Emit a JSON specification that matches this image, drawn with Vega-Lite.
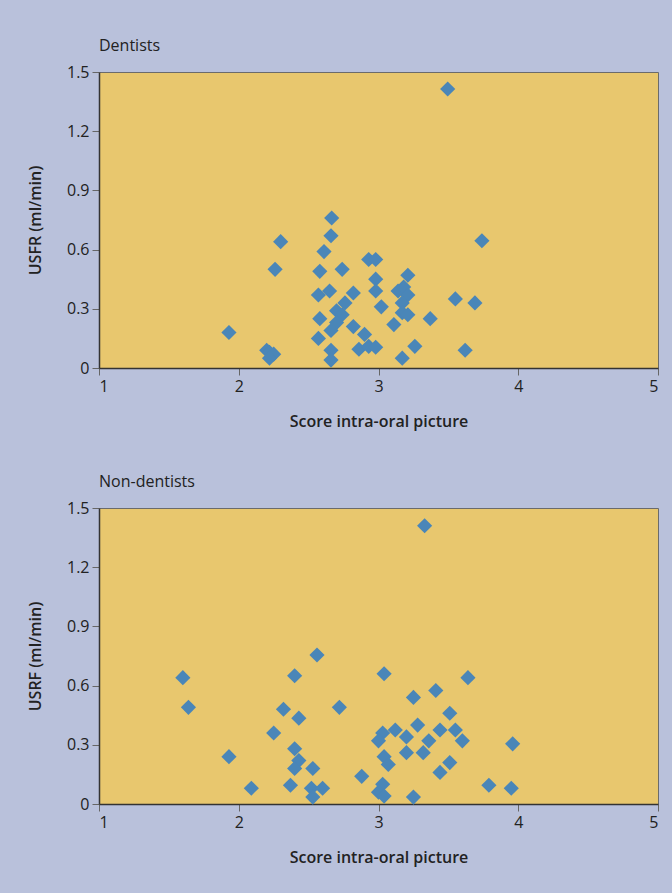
{
  "$schema": "https://vega.github.io/schema/vega-lite/v6.json",
  "background": "#b9c1db",
  "padding": {"left": 27, "top": 37, "right": 14, "bottom": 30},
  "spacing": 140,
  "bounds": "flush",
  "config": {
    "font": "Open Sans",
    "view": {"fill": "#e8c76e", "stroke": "#6b6b6b", "strokeWidth": 1},
    "axis": {
      "grid": false,
      "domainColor": "#333333",
      "domainWidth": 1.5,
      "tickColor": "#666666",
      "tickSize": 7,
      "labelFont": "Open Sans",
      "labelFontSize": 16,
      "labelColor": "#222222",
      "titleFont": "Open Sans",
      "titleFontSize": 16,
      "titleFontWeight": 600,
      "titleColor": "#222222"
    },
    "title": {"font": "Open Sans", "fontSize": 16, "fontWeight": 500, "color": "#222222", "anchor": "start", "frame": "group", "offset": 10}
  },
  "datasets": {
    "dentists": [
      {"score": 1.93, "usfr": 0.18},
      {"score": 2.20, "usfr": 0.09},
      {"score": 2.22, "usfr": 0.08},
      {"score": 2.25, "usfr": 0.07},
      {"score": 2.22, "usfr": 0.05},
      {"score": 2.30, "usfr": 0.64},
      {"score": 2.26, "usfr": 0.50},
      {"score": 2.665, "usfr": 0.76},
      {"score": 2.66, "usfr": 0.67},
      {"score": 2.61, "usfr": 0.59},
      {"score": 2.58, "usfr": 0.49},
      {"score": 2.74, "usfr": 0.50},
      {"score": 2.93, "usfr": 0.55},
      {"score": 2.98, "usfr": 0.55},
      {"score": 3.21, "usfr": 0.47},
      {"score": 3.74, "usfr": 0.645},
      {"score": 2.57, "usfr": 0.37},
      {"score": 2.65, "usfr": 0.39},
      {"score": 2.82, "usfr": 0.38},
      {"score": 2.98, "usfr": 0.45},
      {"score": 2.98, "usfr": 0.39},
      {"score": 3.14, "usfr": 0.39},
      {"score": 3.18, "usfr": 0.41},
      {"score": 3.21, "usfr": 0.37},
      {"score": 2.76, "usfr": 0.33},
      {"score": 2.70, "usfr": 0.29},
      {"score": 2.74, "usfr": 0.27},
      {"score": 3.02, "usfr": 0.31},
      {"score": 3.17, "usfr": 0.33},
      {"score": 3.17, "usfr": 0.28},
      {"score": 3.21, "usfr": 0.27},
      {"score": 3.55, "usfr": 0.35},
      {"score": 3.69, "usfr": 0.33},
      {"score": 2.58, "usfr": 0.25},
      {"score": 2.70, "usfr": 0.23},
      {"score": 2.66, "usfr": 0.19},
      {"score": 2.82, "usfr": 0.21},
      {"score": 2.90, "usfr": 0.17},
      {"score": 3.11, "usfr": 0.22},
      {"score": 3.37, "usfr": 0.25},
      {"score": 2.57, "usfr": 0.15},
      {"score": 2.66, "usfr": 0.09},
      {"score": 2.66, "usfr": 0.04},
      {"score": 2.86, "usfr": 0.095},
      {"score": 2.93, "usfr": 0.11},
      {"score": 2.98, "usfr": 0.105},
      {"score": 3.26, "usfr": 0.11},
      {"score": 3.17, "usfr": 0.05},
      {"score": 3.62, "usfr": 0.09},
      {"score": 3.495, "usfr": 1.414}
    ],
    "nondentists": [
      {"score": 2.56, "usfr": 0.755},
      {"score": 1.60, "usfr": 0.64},
      {"score": 2.40, "usfr": 0.65},
      {"score": 1.64, "usfr": 0.49},
      {"score": 2.32, "usfr": 0.48},
      {"score": 2.43, "usfr": 0.435},
      {"score": 2.25, "usfr": 0.36},
      {"score": 2.40, "usfr": 0.28},
      {"score": 2.43, "usfr": 0.22},
      {"score": 2.40, "usfr": 0.18},
      {"score": 2.53, "usfr": 0.18},
      {"score": 1.93, "usfr": 0.24},
      {"score": 2.37, "usfr": 0.095},
      {"score": 2.09, "usfr": 0.08},
      {"score": 2.52, "usfr": 0.08},
      {"score": 2.60, "usfr": 0.08},
      {"score": 2.53, "usfr": 0.035},
      {"score": 3.04, "usfr": 0.66},
      {"score": 3.64, "usfr": 0.64},
      {"score": 3.41, "usfr": 0.575},
      {"score": 3.25, "usfr": 0.54},
      {"score": 2.72, "usfr": 0.49},
      {"score": 3.51, "usfr": 0.46},
      {"score": 3.28, "usfr": 0.40},
      {"score": 3.03, "usfr": 0.36},
      {"score": 3.12, "usfr": 0.375},
      {"score": 3.00, "usfr": 0.32},
      {"score": 3.20, "usfr": 0.34},
      {"score": 3.36, "usfr": 0.32},
      {"score": 3.44, "usfr": 0.375},
      {"score": 3.55, "usfr": 0.375},
      {"score": 3.60, "usfr": 0.32},
      {"score": 3.96, "usfr": 0.305},
      {"score": 3.20, "usfr": 0.26},
      {"score": 3.32, "usfr": 0.26},
      {"score": 3.04, "usfr": 0.24},
      {"score": 3.07, "usfr": 0.20},
      {"score": 3.51, "usfr": 0.21},
      {"score": 3.44, "usfr": 0.16},
      {"score": 2.88, "usfr": 0.14},
      {"score": 3.79, "usfr": 0.095},
      {"score": 3.95, "usfr": 0.08},
      {"score": 3.03, "usfr": 0.10},
      {"score": 3.00, "usfr": 0.06},
      {"score": 3.04, "usfr": 0.04},
      {"score": 3.25, "usfr": 0.035},
      {"score": 3.33, "usfr": 1.41}
    ]
  },
  "vconcat": [
    {
      "title": {"text": "Dentists"},
      "width": 559,
      "height": 296,
      "data": {"name": "dentists"},
      "mark": {"type": "point", "shape": "diamond", "filled": true, "size": 230, "color": "#4a86b8", "opacity": 1},
      "encoding": {
        "x": {"field": "score", "type": "quantitative", "scale": {"domain": [1, 5], "nice": false, "zero": false},
              "axis": {"values": [1, 2, 3, 4, 5], "title": "Score intra-oral picture", "labelPadding": 3, "titlePadding": 19}},
        "y": {"field": "usfr", "type": "quantitative", "scale": {"domain": [0, 1.5], "nice": false},
              "axis": {"values": [0, 0.3, 0.6, 0.9, 1.2, 1.5], "labelExpr": "datum.value == 0 ? '0' : format(datum.value, '.1f')", "title": "USFR (ml/min)", "labelPadding": 3, "titlePadding": 23}}
      }
    },
    {
      "title": {"text": "Non-dentists"},
      "width": 559,
      "height": 296,
      "data": {"name": "nondentists"},
      "mark": {"type": "point", "shape": "diamond", "filled": true, "size": 230, "color": "#4a86b8", "opacity": 1},
      "encoding": {
        "x": {"field": "score", "type": "quantitative", "scale": {"domain": [1, 5], "nice": false, "zero": false},
              "axis": {"values": [1, 2, 3, 4, 5], "title": "Score intra-oral picture", "labelPadding": 3, "titlePadding": 19}},
        "y": {"field": "usfr", "type": "quantitative", "scale": {"domain": [0, 1.5], "nice": false},
              "axis": {"values": [0, 0.3, 0.6, 0.9, 1.2, 1.5], "labelExpr": "datum.value == 0 ? '0' : format(datum.value, '.1f')", "title": "USRF (ml/min)", "labelPadding": 3, "titlePadding": 23}}
      }
    }
  ]
}
